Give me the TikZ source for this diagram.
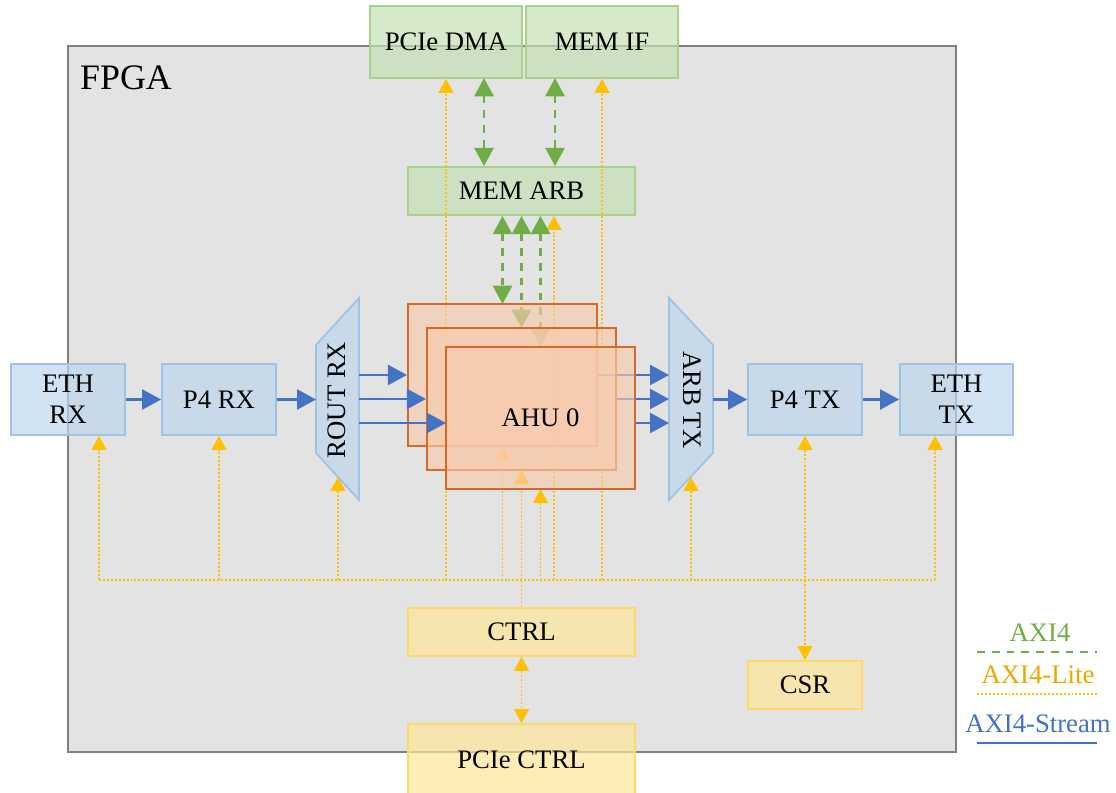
\documentclass[tikz,border=0pt]{standalone}
\usepackage{fontspec}
\setmainfont{Liberation Serif}
\usetikzlibrary{arrows.meta,calc}
\definecolor{fpgaF}{RGB}{227,227,227}
\definecolor{fpgaD}{RGB}{128,128,128}
\definecolor{blueF}{RGB}{189,215,238}
\definecolor{blueD}{RGB}{157,195,230}
\definecolor{greenF}{RGB}{197,224,180}
\definecolor{greenD}{RGB}{169,209,142}
\definecolor{yelF}{RGB}{255,230,153}
\definecolor{yelD}{RGB}{255,217,102}
\definecolor{oraF}{RGB}{248,203,173}
\definecolor{oraD}{RGB}{212,106,40}
\definecolor{axiG}{RGB}{112,173,71}
\definecolor{axiY}{RGB}{255,192,0}
\definecolor{axiB}{RGB}{68,114,196}
\definecolor{legY}{RGB}{230,170,0}
\newcommand{\pxl}{0.025cm}
\begin{document}
\begin{tikzpicture}[x=0.025cm, y=-0.025cm, font=\fontsize{19}{22}\selectfont,
  blk/.style={rectangle, inner sep=0pt, line width=1.3pt, fill opacity=0.7, text opacity=1, align=center},
  bluebox/.style={blk, fill=blueF, draw=blueD, minimum width=114*\pxl, minimum height=71*\pxl},
  greenbox/.style={blk, fill=greenF, draw=greenD},
  yelbox/.style={blk, fill=yelF, draw=yelD},
  ahubox/.style={blk, fill=oraF, draw=oraD, line width=1.5pt, fill opacity=0.65, minimum width=189*\pxl, minimum height=142*\pxl},
  trap/.style={fill=blueF, fill opacity=0.7, draw=blueD, line width=1.3pt, line join=miter},
  lite/.style={draw=axiY, line width=0.8pt, dash pattern=on 1.4pt off 1.4pt},
  litearr/.style={lite, -{Triangle[width=10.7pt,length=10pt]}},
  litedbl/.style={lite, {Triangle[width=10.7pt,length=10pt]}-{Triangle[width=10.7pt,length=10pt]}},
  axi/.style={draw=axiG, line width=2.1pt, dash pattern=on 5.5pt off 5pt},
  axidbl/.style={axi, {Triangle[width=13.5pt,length=13pt]}-{Triangle[width=13.5pt,length=13pt]}},
  strm/.style={draw=axiB, line width=1.8pt, -{Triangle[width=14.2pt,length=13.5pt]}},
  stline/.style={draw=axiB, line width=1.8pt}
]
\useasboundingbox (0,0) rectangle (1116,793);
% FPGA frame
\draw[fill=fpgaF, draw=fpgaD, line width=1.4pt] (68,46) rectangle (956,752);
\node[font=\fontsize{25.5}{28}\selectfont] (fpga) at (126,78) {FPGA};

% boxes
\node[greenbox, minimum width=152*\pxl, minimum height=72*\pxl] (pciedma) at (446,42) {PCIe DMA};
\node[greenbox, minimum width=152*\pxl, minimum height=72*\pxl] (memif) at (602,42) {MEM IF};
\node[greenbox, minimum width=227*\pxl, minimum height=48*\pxl] (memarb) at (521.5,191) {MEM ARB};
\node[bluebox] (ethrx) at (68,399.5) {ETH\\RX};
\node[bluebox] (p4rx) at (219,399.5) {P4 RX};
\node[bluebox] (p4tx) at (805,399.5) {P4 TX};
\node[bluebox, minimum width=113*\pxl] (ethtx) at (956.5,399.5) {ETH\\TX};
\node[yelbox, minimum width=227*\pxl, minimum height=48*\pxl] (ctrl) at (521.5,632) {CTRL};
\node[yelbox, minimum width=227*\pxl, minimum height=72*\pxl] (pciectrl) at (521.5,760) {PCIe CTRL};
\node[yelbox, minimum width=114*\pxl, minimum height=48*\pxl] (csr) at (805,685) {CSR};

% trapezoids
\coordinate (rxA) at (316,345); \coordinate (rxB) at (359,298);
\coordinate (rxC) at (359,500); \coordinate (rxD) at (316,453);
\draw[trap] (rxA) -- (rxB) -- (rxC) -- (rxD) -- cycle;
\node[rotate=90] (routrx) at (337,400) {ROUT RX};
\coordinate (txA) at (669,298); \coordinate (txB) at (713,345);
\coordinate (txC) at (713,453); \coordinate (txD) at (669,500);
\draw[trap] (txA) -- (txB) -- (txC) -- (txD) -- cycle;
\node[rotate=-90] (arbtx) at (692,400) {ARB TX};

% AHU anchors (boxes drawn after the connectors that pass beneath them)
\coordinate (a1n) at (502.5,304); \coordinate (a1s) at (502.5,446); \coordinate (a1e) at (597,375); \coordinate (a1w) at (408,375);
\coordinate (a2n) at (521.5,328); \coordinate (a2s) at (521.5,470); \coordinate (a2e) at (616,399); \coordinate (a2w) at (427,399);
\coordinate (a3n) at (540.5,347); \coordinate (a3s) at (540.5,489); \coordinate (a3e) at (635,423); \coordinate (a3w) at (446,423);

% AXI4-Lite bus
\coordinate (busL) at (99,580); \coordinate (busR) at (935,580);
\draw[lite] (busL) -- (busR);
\coordinate (rxT) at (338,477); \coordinate (txT) at (691,477);
\coordinate (maY) at (554,580);
\draw[litearr] (busL) -- (busL |- ethrx.south);
\draw[litearr] (p4rx.south |- busL) -- (p4rx.south);
\draw[litearr] (rxT |- busL) -- (rxT);
\draw[litearr] (pciedma.south |- busL) -- (pciedma.south);
\draw[litearr] (a1s |- busL) -- (a1s);
\draw[litearr] (ctrl.north) -- (a2s);
\draw[litearr] (a3s |- busL) -- (a3s);
\draw[litearr] (maY) -- (maY |- memarb.south);
\draw[litearr] (memif.south |- busL) -- (memif.south);
\draw[litearr] (txT |- busL) -- (txT);
\draw[litedbl] (p4tx.south) -- (csr.north);
\draw[litearr] (busR) -- (busR |- ethtx.south);
\draw[litedbl] (ctrl.south) -- (pciectrl.north);

% AXI4 links
\coordinate (gPD) at (484,78); \coordinate (gMI) at (555,78);
\draw[axidbl] (gPD) -- (gPD |- memarb.north);
\draw[axidbl] (gMI) -- (gMI |- memarb.north);
\draw[axidbl] (a1n |- memarb.south) -- (a1n);
\draw[axidbl] (a2n |- memarb.south) -- (a2n);
\draw[axidbl] (a3n |- memarb.south) -- (a3n);

% stream arrows leaving AHUs (under boxes)
\draw[strm] (a1e) -- (a1e -| txA);
\draw[strm] (a2e) -- (a2e -| txA);
\draw[strm] (a3e) -- (a3e -| txA);

% AHU boxes
\node[ahubox] (ahu1) at (502.5,375) {};
\node[ahubox] (ahu2) at (521.5,399) {};
\node[ahubox] (ahu3) at (540.5,418) {AHU 0};

% stream arrows
\draw[strm] (ethrx.east) -- (p4rx.west);
\draw[strm] (p4rx.east) -- (p4rx.east -| rxA);
\draw[strm] (a1w -| rxB) -- (ahu1.west);
\draw[strm] (a2w -| rxB) -- (ahu2.west);
\draw[strm] (a3w -| rxB) -- (a3w);
\draw[strm] (p4tx.west -| txB) -- (p4tx.west);
\draw[strm] (p4tx.east) -- (ethtx.west);

% legend
\node[text=axiG] (lgA) at (1040,633) {AXI4};
\coordinate (lgA1) at (977,652); \coordinate (lgA2) at (1097,652);
\draw[axi] (lgA1) -- (lgA2);
\node[text=legY] (lgL) at (1038,675) {AXI4-Lite};
\coordinate (lgL1) at (977,694); \coordinate (lgL2) at (1097,694);
\draw[lite] (lgL1) -- (lgL2);
\node[text=axiB] (lgS) at (1038,724) {AXI4-Stream};
\coordinate (lgS1) at (977,743); \coordinate (lgS2) at (1097,743);
\draw[stline] (lgS1) -- (lgS2);
\end{tikzpicture}
\end{document}
